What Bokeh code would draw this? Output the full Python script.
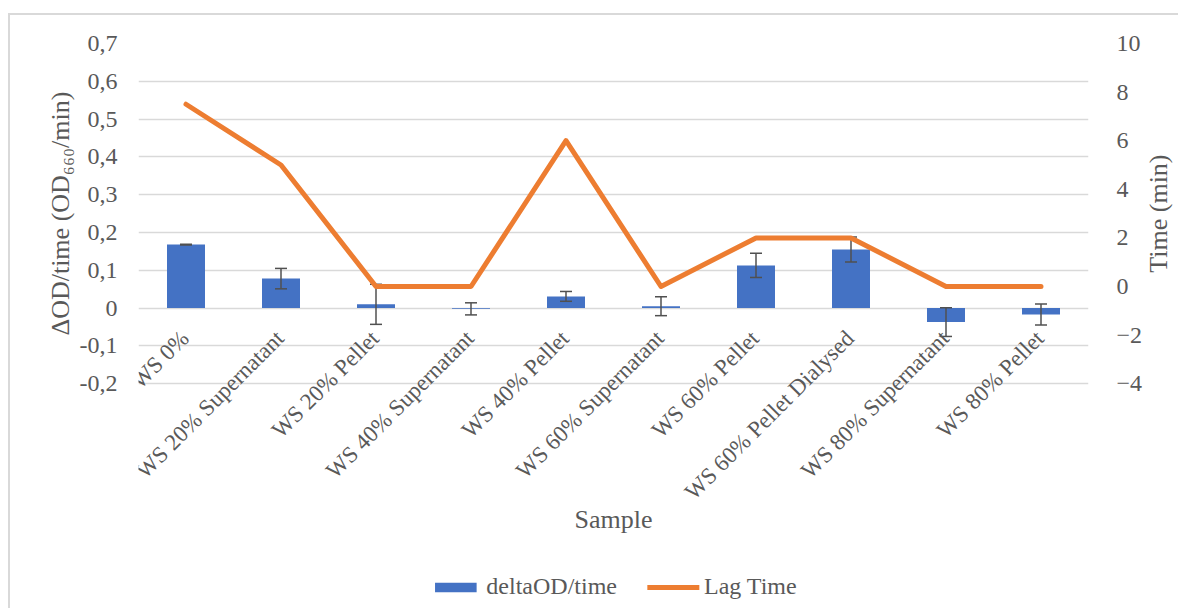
from math import pi
from bokeh.plotting import figure
from bokeh.models import (ColumnDataSource, FactorRange, Range1d, LinearAxis, FixedTicker,
                          CustomJSTickFormatter, LabelSet, Label)
from bokeh.core.properties import value
from bokeh.embed import file_html
from bokeh.resources import INLINE

samples = ["WS 0%", "WS 20% Supernatant", "WS 20% Pellet", "WS 40% Supernatant", "WS 40% Pellet",
           "WS 60% Supernatant", "WS 60% Pellet", "WS 60% Pellet Dialysed", "WS 80% Supernatant",
           "WS 80% Pellet"]
delta_od = [0.168, 0.078, 0.010, -0.002, 0.031, 0.005, 0.113, 0.155, -0.037, -0.017]
delta_err = [0.001, 0.027, 0.053, 0.016, 0.013, 0.025, 0.032, 0.033, 0.038, 0.028]
lag_time = [7.5, 5, 0, 0, 6, 0, 2, 2, 0, 0]
left_ticks = [-0.2, -0.1, 0, 0.1, 0.2, 0.3, 0.4, 0.5, 0.6, 0.7]
right_ticks = [-4, -2, 0, 2, 4, 6, 8, 10]

FONT = "Liberation Serif"
TXT = "#595959"
TITLE_FS = "26px"
TICK_FS = "24px"
CAT_FS = "23px"

L0, L1 = -0.2, 0.7          # left axis extent
R0, R1 = -4, 10             # right axis extent
EXT = 0.6                   # extra room below the axes (left units) for labels/legend
r_ext = EXT * (R1 - R0) / (L1 - L0)

upper = [v + e for v, e in zip(delta_od, delta_err)]
lower = [v - e for v, e in zip(delta_od, delta_err)]

p = figure(x_range=FactorRange(*samples), y_range=Range1d(L0 - EXT, L1),
           width=1170, height=595, output_backend="svg", toolbar_location=None,
           min_border_left=128, min_border_right=92, min_border_top=28, min_border_bottom=0)
p.styles = {"border-left": "2px solid #d9d9d9", "border-top": "2px solid #d9d9d9",
            "margin-top": "13px", "margin-left": "8px"}
p.outline_line_color = None
p.background_fill_color = "white"
p.border_fill_color = "white"

p.extra_y_ranges = {"right": Range1d(R0 - r_ext, R1)}

# grid
p.xgrid.visible = False
p.ygrid.ticker = FixedTicker(ticks=left_ticks)
p.ygrid.grid_line_color = "#d9d9d9"
p.ygrid.grid_line_width = 1.5

# bars
p.vbar(x=samples, top=delta_od, width=0.4, fill_color="#4472C4", line_color=None,
       legend_label="deltaOD/time")
# error bars
p.segment(x0=samples, y0=lower, x1=samples, y1=upper, line_color="#505050", line_width=1.5)
p.scatter(x=samples + samples, y=upper + lower, marker="dash", size=12,
          line_color="#505050", line_width=1.5)
# line
p.line(x=samples, y=lag_time, y_range_name="right", line_color="#ED7D31", line_width=5,
       line_join="round", line_cap="round", legend_label="Lag Time")

# left axis
ly = p.yaxis[0]
ly.ticker = FixedTicker(ticks=left_ticks)
ly.bounds = (L0, L1)
ly.formatter = CustomJSTickFormatter(
    code="return Math.abs(tick) < 1e-9 ? '0' : tick.toFixed(1).replace('.', ',');")

# right axis
ry = LinearAxis(y_range_name="right", ticker=FixedTicker(ticks=right_ticks), bounds=(R0, R1))
p.add_layout(ry, "right")

for ax in (ly, ry):
    ax.axis_line_color = None
    ax.major_tick_line_color = None
    ax.minor_tick_line_color = None
    ax.major_label_text_font = FONT
    ax.major_label_text_font_size = TICK_FS
    ax.major_label_text_color = TXT
ly.major_label_standoff = 15
ry.major_label_standoff = 22

# axis titles, centred on the axes' own extents, reading bottom-to-top
p.add_layout(Label(x=0, y=(L0 + L1) / 2, x_offset=-78, text="ΔOD/time (OD₆₆₀/min)",
                   angle=pi / 2, text_align="center", text_baseline="middle",
                   text_font=FONT, text_font_size=TITLE_FS, text_color=TXT), "left")
p.add_layout(Label(x=len(samples), y=(R0 + R1) / 2, y_range_name="right", x_offset=70,
                   text="Time (min)", angle=pi / 2, text_align="center",
                   text_baseline="middle", text_font=FONT, text_font_size=TITLE_FS,
                   text_color=TXT), "right")

p.xaxis.visible = False

# category labels hanging below the zero line
src = ColumnDataSource(dict(sample=samples))
p.add_layout(LabelSet(x="sample", y=-0.07, text="sample", source=src, angle=pi / 4,
                      x_offset=-1, text_align="right", text_baseline="middle",
                      text_font=value(FONT), text_font_size=value(CAT_FS), text_color=TXT),
             "below")

# x axis title
p.add_layout(Label(x=len(samples) / 2, y=-0.559, text="Sample", text_align="center",
                   text_baseline="middle", text_font=FONT, text_font_size=TITLE_FS,
                   text_color=TXT))

# legend
lg = p.legend[0]
lg.location = "bottom_center"
lg.orientation = "horizontal"
lg.glyph_width = 52
lg.glyph_height = 12
lg.label_standoff = 5
lg.spacing = 30
lg.padding = 0
lg.margin = 10
lg.border_line_color = None
lg.background_fill_alpha = 0
lg.label_text_font = FONT
lg.label_text_font_size = TICK_FS
lg.label_text_color = TXT

open("out.html", "w").write(file_html(p, INLINE))
